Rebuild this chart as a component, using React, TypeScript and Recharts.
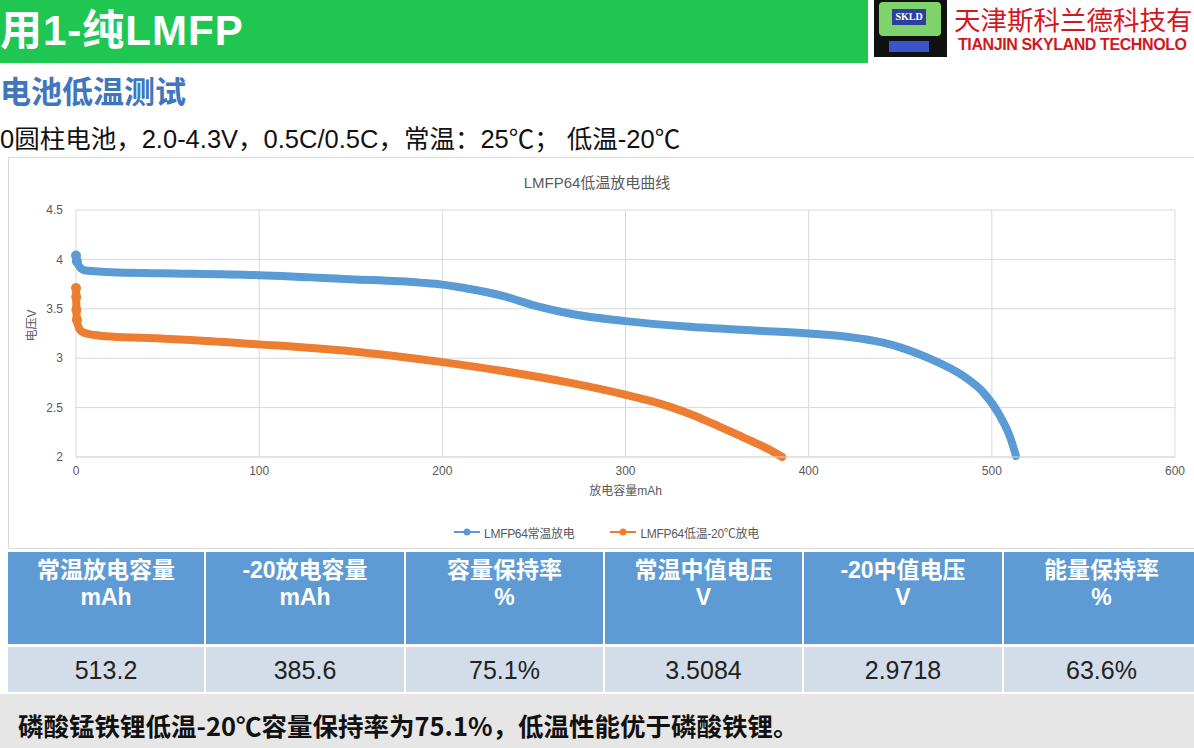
import { LineChart, Line, XAxis, YAxis, CartesianGrid, Legend } from "recharts";

// 常温放电 (25℃)
const capNormal = [0, 0.5, 1.8, 4.5, 10, 19, 46, 100, 150, 188, 200, 207, 215, 233, 251, 270, 300, 333, 370, 400, 422, 440, 450, 459, 468, 477, 486, 495, 504, 510, 513.2];
const voltNormal = [4.04, 3.98, 3.93, 3.89, 3.88, 3.87, 3.86, 3.84, 3.8, 3.765, 3.745, 3.725, 3.7, 3.63, 3.53, 3.45, 3.375, 3.32, 3.28, 3.25, 3.215, 3.16, 3.11, 3.05, 2.98, 2.9, 2.8, 2.66, 2.43, 2.2, 2.01];

// 低温-20℃放电
const capCold = [0, 0.1, 0.2, 0.5, 1.5, 4, 10, 19, 46, 100, 150, 188, 200, 233, 270, 300, 312, 324, 338, 351, 362, 370, 378, 385.6];
const voltCold = [3.71, 3.62, 3.49, 3.39, 3.31, 3.26, 3.235, 3.22, 3.2, 3.14, 3.07, 2.99, 2.96, 2.87, 2.75, 2.63, 2.575, 2.51, 2.415, 2.31, 2.22, 2.15, 2.08, 2.0];

const xTicks = [0, 100, 200, 300, 400, 500, 600];
const yTicks = [2, 2.5, 3, 3.5, 4, 4.5];
const seriesNames = ["LMFP64常温放电", "LMFP64低温-20℃放电"];
const seriesColors = ["#5b9bd5", "#ed7d31"];

const tableHeads = [
  ["常温放电容量", "mAh"],
  ["-20放电容量", "mAh"],
  ["容量保持率", "%"],
  ["常温中值电压", "V"],
  ["-20中值电压", "V"],
  ["能量保持率", "%"],
];
const tableValues = ["513.2", "385.6", "75.1%", "3.5084", "2.9718", "63.6%"];

const colEdges = [8, 205, 405, 604, 803, 1003, 1200];

const sans = '"Liberation Sans", Arial, "Noto Sans CJK SC", sans-serif';

const normalData = capNormal.map((x, i) => ({ x, v: voltNormal[i] }));
const coldData = capCold.map((x, i) => ({ x, v: voltCold[i] }));

// only the first few (stacked) samples show as separate markers in the source
const makeDot = (color: string) => (props: any) => {
  const { cx, cy, payload, index } = props;
  if (payload.x > 0.6) return <g key={`d${index}`} />;
  return <circle key={`d${index}`} cx={cx} cy={cy} r={5} fill={color} />;
};

const renderLegend = () => (
  <div style={{ display: "flex", justifyContent: "center", alignItems: "center", gap: 36, height: 24, fontSize: 12, color: "#595959", fontFamily: sans }}>
    {seriesNames.map((n, i) => (
      <span key={n} style={{ display: "flex", alignItems: "center" }}>
        <svg width={26} height={10}>
          <line x1={0} y1={5} x2={26} y2={5} stroke={seriesColors[i]} strokeWidth={2} />
          <circle cx={13} cy={5} r={3.5} fill={seriesColors[i]} />
        </svg>
        <span style={{ marginLeft: 4, letterSpacing: -0.3 }}>{n}</span>
      </span>
    ))}
  </div>
);

export default function App() {
  return (
    <div style={{ position: "absolute", left: 0, top: 0, width: 1194, height: 748, overflow: "hidden", background: "#fff", fontFamily: sans }}>
      {/* green title bar */}
      <div style={{ position: "absolute", left: 0, top: 0, width: 868, height: 63, background: "#1fc752" }} />
      <div style={{ position: "absolute", left: 0, top: -4, fontSize: 42, fontWeight: 700, color: "#fff", letterSpacing: 1, whiteSpace: "nowrap" }}>
        用1-纯LMFP
      </div>

      {/* logo */}
      <div style={{ position: "absolute", left: 874, top: 0, width: 73, height: 57, background: "#111" }}>
        <div style={{ position: "absolute", left: 5, top: 2, width: 62, height: 34, background: "#7ed36a", borderRadius: 4 }} />
        <div style={{ position: "absolute", left: 18, top: 9, width: 34, height: 16, background: "#2d3f9c", color: "#fff", fontSize: 10, fontWeight: 700, textAlign: "center", lineHeight: "16px", fontFamily: '"Liberation Serif", serif' }}>SKLD</div>
        <div style={{ position: "absolute", left: 15, top: 41, width: 40, height: 11, background: "#3a55c8" }} />
      </div>
      <div style={{ position: "absolute", left: 954, top: 4, lineHeight: "29px", whiteSpace: "nowrap", fontSize: 26.5, color: "#d4161f", fontFamily: '"Noto Sans CJK SC", sans-serif' }}>
        天津斯科兰德科技有
      </div>
      <div style={{ position: "absolute", left: 958, top: 37, lineHeight: "15px", whiteSpace: "nowrap", fontSize: 16, fontWeight: 700, color: "#d4161f", letterSpacing: -0.4, fontFamily: '"Liberation Sans Narrow", "Liberation Sans", sans-serif' }}>
        TIANJIN SKYLAND TECHNOLO
      </div>

      {/* section title */}
      <div style={{ position: "absolute", left: 0, top: 67, fontSize: 31, fontWeight: 700, color: "#3f76bd", whiteSpace: "nowrap", fontFamily: '"Noto Sans CJK SC", sans-serif' }}>
        电池低温测试
      </div>
      <div style={{ position: "absolute", left: 0, top: 118, fontSize: 25.5, color: "#111", whiteSpace: "nowrap" }}>
        0圆柱电池，2.0-4.3V，0.5C/0.5C，常温：25℃； 低温-20℃
      </div>

      {/* chart box */}
      <div style={{ position: "absolute", left: 8, top: 157, width: 1200, height: 392, border: "1px solid #d9d9d9", boxSizing: "border-box", background: "#fff" }} />
      <div style={{ position: "absolute", left: 0, top: 171, width: 1194, textAlign: "center", fontSize: 15, color: "#595959" }}>
        LMFP64低温放电曲线
      </div>
      <div style={{ position: "absolute", left: 0, top: 158 }}>
        <LineChart width={1194} height={390} margin={{ top: 52, right: 19, left: 0, bottom: 4 }} style={{ fontFamily: sans }}>
          <CartesianGrid stroke="#d9d9d9" horizontal vertical />
          <XAxis
            type="number"
            dataKey="x"
            domain={[0, 600]}
            ticks={xTicks}
            height={63}
            tickSize={0}
            tickMargin={9}
            axisLine={{ stroke: "#d9d9d9" }}
            tick={{ fill: "#595959", fontSize: 12 }}
            label={{ value: "放电容量mAh", position: "insideTop", offset: 29, fill: "#595959", fontSize: 12 }}
          />
          <YAxis
            type="number"
            domain={[2, 4.5]}
            ticks={yTicks}
            width={76}
            tickSize={0}
            tickMargin={13}
            axisLine={false}
            tick={{ fill: "#595959", fontSize: 12 }}
            label={{ value: "电压V", angle: -90, position: "insideLeft", offset: 32, dy: -8, fill: "#595959", fontSize: 12, style: { textAnchor: "middle" } }}
          />
          <Legend verticalAlign="bottom" content={renderLegend} wrapperStyle={{ left: 19 }} />
          <Line
            data={normalData}
            dataKey="v"
            name={seriesNames[0]}
            type="monotone"
            stroke={seriesColors[0]}
            strokeWidth={8}
            strokeLinecap="round"
            strokeLinejoin="round"
            dot={makeDot(seriesColors[0])}
            activeDot={false}
            isAnimationActive={false}
          />
          <Line
            data={coldData}
            dataKey="v"
            name={seriesNames[1]}
            type="monotone"
            stroke={seriesColors[1]}
            strokeWidth={8}
            strokeLinecap="round"
            strokeLinejoin="round"
            dot={makeDot(seriesColors[1])}
            activeDot={false}
            isAnimationActive={false}
          />
        </LineChart>
      </div>

      {/* data table */}
      {tableHeads.map((h, i) => (
        <div
          key={h[0]}
          style={{
            position: "absolute",
            left: colEdges[i] + (i === 0 ? 0 : 1),
            top: 552,
            width: colEdges[i + 1] - colEdges[i] - (i === 0 ? 1 : 2),
            height: 92,
            background: "#5e9bd4",
            color: "#fff",
            fontWeight: 700,
            fontSize: 23,
            lineHeight: "27px",
            textAlign: "center",
            paddingTop: 5,
            boxSizing: "border-box",
          }}
        >
          <div>{h[0]}</div>
          <div>{h[1]}</div>
        </div>
      ))}
      {tableValues.map((v, i) => (
        <div
          key={v}
          style={{
            position: "absolute",
            left: colEdges[i] + (i === 0 ? 0 : 1),
            top: 647,
            width: colEdges[i + 1] - colEdges[i] - (i === 0 ? 1 : 2),
            height: 45,
            background: "#d3dde9",
            color: "#222",
            fontSize: 25,
            lineHeight: "47px",
            textAlign: "center",
          }}
        >
          {v}
        </div>
      ))}

      {/* conclusion */}
      <div style={{ position: "absolute", left: 0, top: 694, width: 1194, height: 54, background: "#e6e6e6" }} />
      <div style={{ position: "absolute", left: 18, top: 706, fontSize: 25.5, fontWeight: 700, color: "#111", whiteSpace: "nowrap", fontFamily: '"Noto Sans CJK SC", sans-serif' }}>
        磷酸锰铁锂低温-20℃容量保持率为75.1%，低温性能优于磷酸铁锂。
      </div>
    </div>
  );
}
